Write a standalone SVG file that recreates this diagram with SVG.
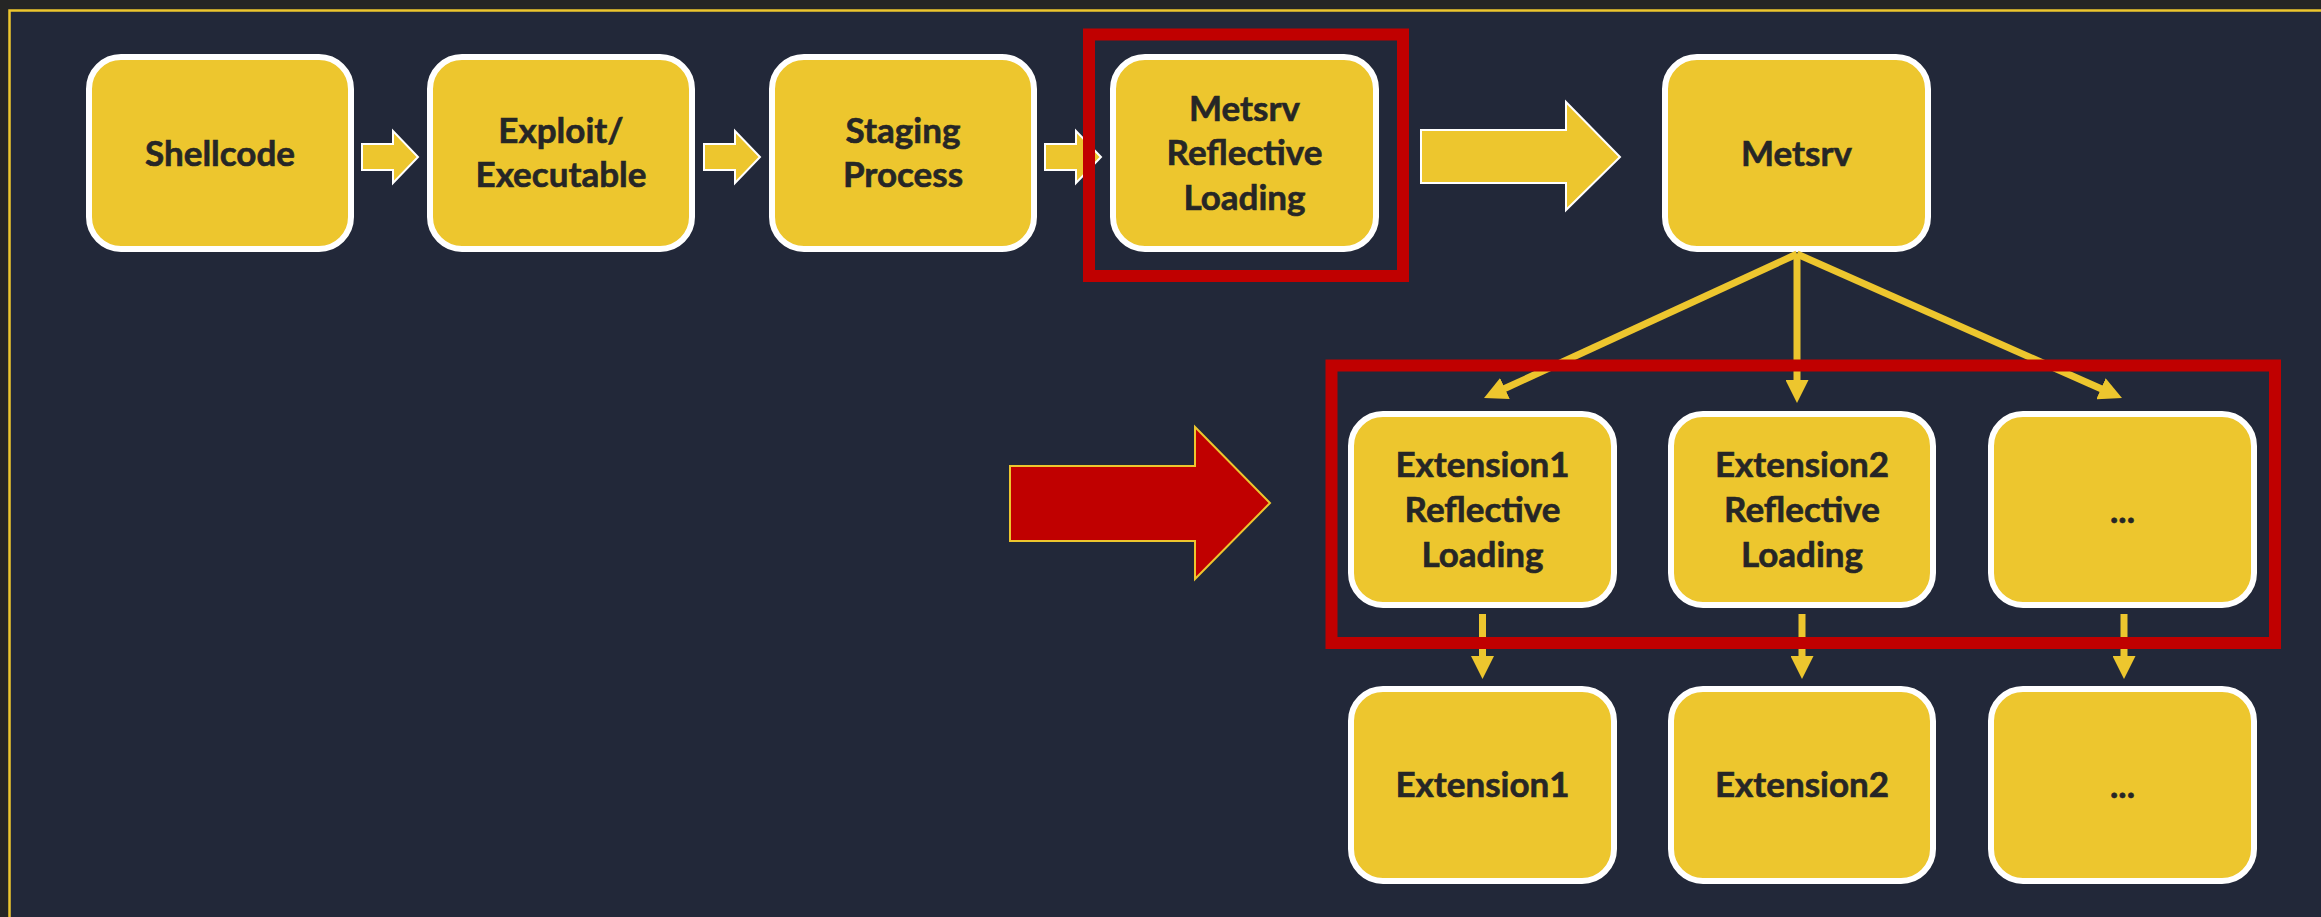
<svg xmlns="http://www.w3.org/2000/svg" width="2321" height="917" viewBox="0 0 2321 917">
  <style>
    .node rect { fill: #EDC62E; stroke: #FFFFFF; stroke-width: 6; }
    .node text { font-family: Lato, "Liberation Sans", sans-serif; font-weight: bold; font-size: 35px; fill: #262626; stroke: #262626; stroke-width: 0.6; text-anchor: middle; }
    .step { fill: #EDC62E; stroke: #FFFFFF; stroke-width: 2; }
    .link { stroke: #EDC62E; stroke-width: 7; fill: none; marker-end: url(#head); }
    .focus { fill: none; stroke: #C00000; stroke-width: 12; }
  </style>
  <defs>
    <marker id="head" viewBox="0 0 23 23" markerUnits="userSpaceOnUse" markerWidth="23" markerHeight="23" refX="2" refY="11.5" orient="auto">
      <path d="M0,0 L23,11.5 L0,23 z" fill="#EDC62E"/>
    </marker>
  </defs>

  <!-- slide background and frame -->
  <rect x="0" y="0" width="2321" height="917" fill="#252525"/>
  <rect x="9.5" y="10.5" width="2330" height="920" fill="#222839" stroke="#EDC62E" stroke-width="2.5"/>

  <!-- top row -->
  <g id="shellcode" class="node">
    <rect x="89" y="57" width="262" height="192" rx="32"/>
    <text x="220" y="166">Shellcode</text>
  </g>
  <g id="exploit" class="node">
    <rect x="430" y="57" width="262" height="192" rx="32"/>
    <text x="561" y="143">Exploit/</text>
    <text x="561" y="187">Executable</text>
  </g>
  <g id="staging" class="node">
    <rect x="772" y="57" width="262" height="192" rx="32"/>
    <text x="903" y="143">Staging</text>
    <text x="903" y="187">Process</text>
  </g>
  <g id="metsrv-loading" class="node">
    <rect x="1113" y="57" width="263" height="192" rx="32"/>
    <text x="1244.5" y="121">Metsrv</text>
    <text x="1244.5" y="165">Reflective</text>
    <text x="1244.5" y="210">Loading</text>
  </g>
  <g id="metsrv" class="node">
    <rect x="1665" y="57" width="263" height="192" rx="32"/>
    <text x="1796.5" y="166">Metsrv</text>
  </g>

  <!-- extension loading row -->
  <g id="ext1-loading" class="node">
    <rect x="1351" y="414" width="263" height="191" rx="32"/>
    <text x="1482.5" y="477">Extension1</text>
    <text x="1482.5" y="522">Reflective</text>
    <text x="1482.5" y="567">Loading</text>
  </g>
  <g id="ext2-loading" class="node">
    <rect x="1671" y="414" width="262" height="191" rx="32"/>
    <text x="1802" y="477">Extension2</text>
    <text x="1802" y="522">Reflective</text>
    <text x="1802" y="567">Loading</text>
  </g>
  <g id="extn-loading" class="node">
    <rect x="1991" y="414" width="263" height="191" rx="32"/>
    <text x="2122.5" y="523">...</text>
  </g>

  <!-- loaded extensions row -->
  <g id="ext1" class="node">
    <rect x="1351" y="689" width="263" height="192" rx="32"/>
    <text x="1482.5" y="797">Extension1</text>
  </g>
  <g id="ext2" class="node">
    <rect x="1671" y="689" width="262" height="192" rx="32"/>
    <text x="1802" y="797">Extension2</text>
  </g>
  <g id="extn" class="node">
    <rect x="1991" y="689" width="263" height="192" rx="32"/>
    <text x="2122.5" y="798">...</text>
  </g>

  <!-- connectors -->
  <g id="connectors">
    <!-- block arrows along the staging chain -->
    <path class="step" d="M362,144 H393 V131 L418,157 L393,183 V170 H362 Z"/>
    <path class="step" d="M704,144 H735 V131 L760,157 L735,183 V170 H704 Z"/>
    <path class="step" d="M1045,144 H1076 V131 L1101,157 L1076,183 V170 H1045 Z"/>
    <path class="step" d="M1421,130 H1566 V102 L1620,157 L1566,210 V183 H1421 Z"/>
    <!-- metsrv fans out to the extensions -->
    <line class="link" x1="1797" y1="254" x2="1503.1" y2="389.3"/>
    <line class="link" x1="1797" y1="254" x2="1797" y2="382"/>
    <line class="link" x1="1797" y1="254" x2="2102.8" y2="389.5"/>
    <!-- each loader yields its extension -->
    <line class="link" x1="1482.5" y1="614" x2="1482.5" y2="658"/>
    <line class="link" x1="1802" y1="614" x2="1802" y2="658"/>
    <line class="link" x1="2124" y1="614" x2="2124" y2="658"/>
  </g>

  <!-- highlight boxes -->
  <rect class="focus" x="1089" y="34.5" width="314" height="241.5"/>
  <rect class="focus" x="1331.5" y="365.5" width="943.5" height="277.5" stroke-width="12.5"/>

  <!-- pointer arrow -->
  <path id="pointer" d="M1010,466 H1195 V427 L1270,503 L1195,579 V541 H1010 Z" fill="#C00000" stroke="#EDC62E" stroke-width="2"/>
</svg>
